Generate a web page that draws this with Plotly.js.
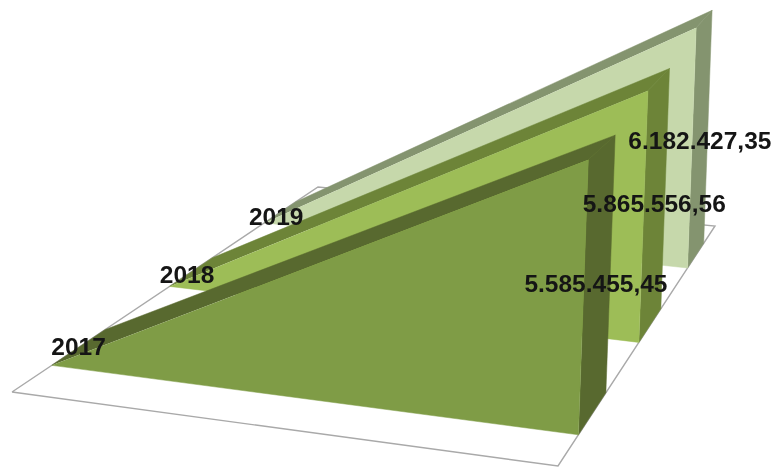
<!DOCTYPE html>
<html><head><meta charset="utf-8">
<script src="https://cdn.plot.ly/plotly-3.0.1.min.js"></script>
<style>html,body{margin:0;padding:0;background:#fff}#c{width:778px;height:467px;filter:blur(0.5px)}</style>
</head><body><div id="c"></div>
<script>
// Data
const years = ['2017', '2018', '2019'];
const startValues = [0, 0, 0];
const endValues = [5585455.45, 5865556.56, 6182427.35];
const valueLabels = ['5.585.455,45', '5.865.556,56', '6.182.427,35'];

// Styling and 3D view
const frontColors = ['#7f9c46', '#9dbd57', '#c6d8ab'];
const sideColors = ['#58692f', '#6d8438', '#84946f'];
const depthBands = [[0.13, 0.305], [0.515, 0.655], [0.825, 0.928]];
const floorCorners = {fl: [12, 392], fr: [558, 466], br: [715, 226], bl: [318, 187]};
const yearLabelShift = [[0, 1], [-4, 5], [-4, 7]];
const valueLabelShift = [[-1, 5], [0, 3], [0, 6]];

// Projects (position along the series, depth, value) on to the page plane
function project(u, v, value) {
  const c = floorCorners;
  const lx = c.fl[0] + (c.bl[0] - c.fl[0]) * v, ly = c.fl[1] + (c.bl[1] - c.fl[1]) * v;
  const rx = c.fr[0] + (c.br[0] - c.fr[0]) * v, ry = c.fr[1] + (c.br[1] - c.fr[1]) * v;
  const h = value / 1e6 / (0.0193 + 0.0078 * v);
  return [lx + (rx - lx) * u + h * 0.036, ly + (ry - ly) * u - h];
}
function poly(pts, color) {
  return {type: 'scatter', mode: 'lines', x: pts.map(p => p[0]), y: pts.map(p => p[1]),
    fill: 'toself', fillcolor: color, line: {color: color, width: 0.5}, hoverinfo: 'skip', showlegend: false};
}
const traces = [];
// Floor
const fc = [project(0,0,0), project(1,0,0), project(1,1,0), project(0,1,0), project(0,0,0)];
traces.push({type: 'scatter', mode: 'lines', x: fc.map(p => p[0]), y: fc.map(p => p[1]),
  line: {color: '#a9a9a9', width: 1.4}, hoverinfo: 'skip', showlegend: false});
// Series, back to front
for (let i = years.length - 1; i >= 0; i--) {
  const [v0, v1] = depthBands[i], a = startValues[i], b = endValues[i];
  traces.push(poly([project(1,v0,0), project(1,v1,0), project(1,v1,b), project(1,v0,b)], sideColors[i]));
  traces.push(poly([project(0,v0,a), project(0,v1,a), project(1,v1,b), project(1,v0,b)], sideColors[i]));
  traces.push(poly([project(0,v0,a), project(1,v0,0), project(1,v0,b)], frontColors[i]));
}
// Labels
const labelFont = {family: 'Liberation Sans', size: 24.5, color: '#151515', weight: 'bold'};
years.forEach((y, i) => {
  const vm = (depthBands[i][0] + depthBands[i][1]) / 2;
  const p = project(0, vm, 0), q = project(1, vm, endValues[i] / 2);
  traces.push({type: 'scatter', mode: 'text', x: [p[0] + yearLabelShift[i][0]], y: [p[1] + yearLabelShift[i][1]], text: [y], textposition: 'middle center',
    textfont: labelFont, hoverinfo: 'skip', showlegend: false, cliponaxis: false});
  traces.push({type: 'scatter', mode: 'text', x: [q[0] + valueLabelShift[i][0]], y: [q[1] + valueLabelShift[i][1]], text: [valueLabels[i]], textposition: 'middle center',
    textfont: labelFont, hoverinfo: 'skip', showlegend: false, cliponaxis: false});
});
Plotly.newPlot('c', traces, {
  width: 778, height: 467, margin: {l: 0, r: 0, t: 0, b: 0},
  paper_bgcolor: '#fff', plot_bgcolor: '#fff', showlegend: false,
  xaxis: {range: [0, 778], visible: false, fixedrange: true},
  yaxis: {range: [467, 0], visible: false, fixedrange: true}
}, {displayModeBar: false, staticPlot: true});
</script></body></html>
